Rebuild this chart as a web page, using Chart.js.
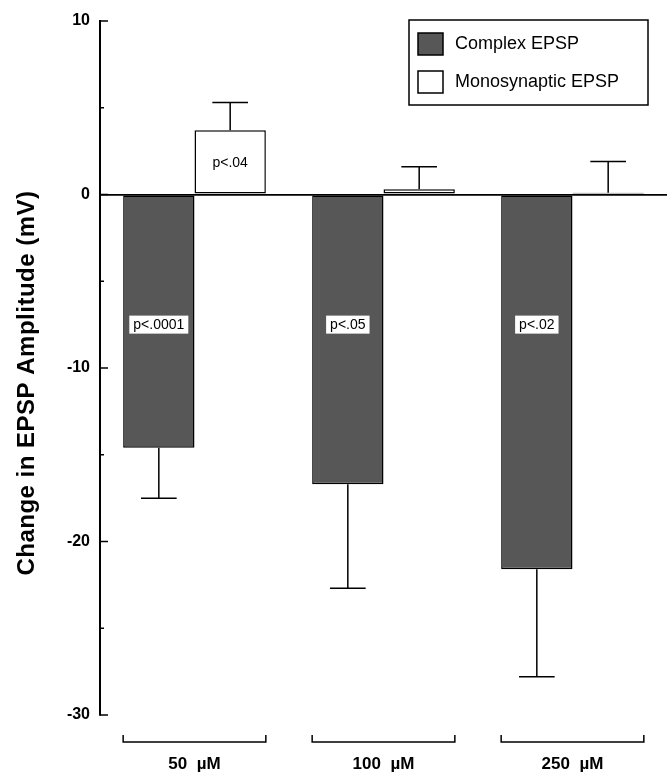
<!DOCTYPE html>
<html>
<head>
<meta charset="utf-8">
<style>
html,body{margin:0;padding:0;background:#fff;}
#wrap{width:670px;height:775px;position:relative;}
</style>
</head>
<body>
<div id="wrap"><canvas id="c" width="670" height="775"></canvas></div>
<script src="https://cdn.jsdelivr.net/npm/chart.js@4/dist/chart.umd.min.js"></script>
<script>
// ---- data ----
const categories = ['50  µM', '100  µM', '250  µM'];
const seriesNames = ['Complex EPSP', 'Monosynaptic EPSP'];
const complexValues = [-14.6, -16.7, -21.6];
const complexErrors = [2.9, 6.0, 6.2];
const monoValues = [3.7, 0.3, 0.1];
const monoErrors = [1.6, 1.3, 1.8];
const complexPLabels = ['p<.0001', 'p<.05', 'p<.02'];
const monoPLabels = ['p<.04', '', ''];
const yAxisTitle = 'Change in EPSP Amplitude (mV)';
const yMin = -30, yMax = 10, yStep = 5, yLabelStep = 10;

const FONT = '"Liberation Sans", Arial, Helvetica, sans-serif';
Chart.defaults.font.family = FONT;
Chart.defaults.color = '#000';

const complexColor = '#575757';
const monoColor = '#ffffff';

const customDraw = {
  id: 'customDraw',
  afterDatasetsDraw(chart) {
    const ctx = chart.ctx;
    const y = chart.scales.y;
    const area = chart.chartArea;
    ctx.save();
    ctx.strokeStyle = '#000';
    ctx.lineWidth = 1.5;

    // error bars (one-sided, in the direction of the bar)
    chart.data.datasets.forEach((ds, di) => {
      const meta = chart.getDatasetMeta(di);
      meta.data.forEach((bar, i) => {
        const v = ds.data[i], e = ds.errors[i];
        const end = v < 0 ? v - e : v + e;
        const yb = y.getPixelForValue(v);
        const ye = y.getPixelForValue(end);
        const half = bar.width / 4;
        ctx.beginPath();
        ctx.moveTo(bar.x, yb);
        ctx.lineTo(bar.x, ye);
        ctx.moveTo(bar.x - half, ye);
        ctx.lineTo(bar.x + half, ye);
        ctx.stroke();
      });
    });

    // p-value labels
    ctx.font = '14px ' + FONT;
    ctx.textAlign = 'center';
    ctx.textBaseline = 'middle';
    const m0 = chart.getDatasetMeta(0), m1 = chart.getDatasetMeta(1);
    complexPLabels.forEach((t, i) => {
      if (!t) return;
      const bx = m0.data[i].x;
      const by = y.getPixelForValue(-7.5);
      const w = ctx.measureText(t).width + 8;
      ctx.fillStyle = '#fff';
      ctx.fillRect(bx - w / 2, by - 9, w, 18);
      ctx.fillStyle = '#000';
      ctx.fillText(t, bx, by + 1);
    });
    monoPLabels.forEach((t, i) => {
      if (!t) return;
      const bx = m1.data[i].x;
      const by = y.getPixelForValue(monoValues[i] / 2);
      ctx.fillStyle = '#000';
      ctx.fillText(t, bx, by + 1);
    });

    // inward y ticks
    ctx.lineWidth = 1.5;
    y.ticks.forEach(tk => {
      const py = y.getPixelForValue(tk.value);
      const len = (tk.value % yLabelStep === 0) ? 8 : 4;
      ctx.beginPath();
      ctx.moveTo(area.left, py);
      ctx.lineTo(area.left + len, py);
      ctx.stroke();
    });

    // group brackets under x axis
    const by = area.bottom + 27;
    categories.forEach((c, i) => {
      const l = m0.data[i].x - m0.data[i].width / 2;
      const r = m1.data[i].x + m1.data[i].width / 2;
      ctx.beginPath();
      ctx.moveTo(l, by - 7);
      ctx.lineTo(l, by);
      ctx.lineTo(r, by);
      ctx.lineTo(r, by - 7);
      ctx.stroke();
    });

    // legend
    const lx = 409, ly = 20, lw = 239, lh = 85;
    ctx.lineWidth = 1.5;
    ctx.strokeRect(lx, ly, lw, lh);
    ctx.font = '18px ' + FONT;
    ctx.textAlign = 'left';
    ctx.textBaseline = 'middle';
    chart.data.datasets.forEach((ds, di) => {
      const sy = ly + 13 + di * 38;
      ctx.fillStyle = ds.backgroundColor;
      ctx.fillRect(lx + 9, sy, 25, 22);
      ctx.strokeRect(lx + 9, sy, 25, 22);
      ctx.fillStyle = '#000';
      ctx.fillText(ds.label, lx + 46, sy + 11);
    });

    // y axis title
    ctx.save();
    ctx.translate(34, 383);
    ctx.rotate(-Math.PI / 2);
    ctx.font = 'bold 24px ' + FONT;
    ctx.textAlign = 'center';
    ctx.textBaseline = 'alphabetic';
    try { ctx.letterSpacing = '0.5px'; } catch (e) {}
    ctx.fillStyle = '#000';
    ctx.fillText(yAxisTitle, 0, 0);
    ctx.restore();

    ctx.restore();
  }
};

new Chart(document.getElementById('c'), {
  type: 'bar',
  data: {
    labels: categories,
    datasets: [
      {
        label: seriesNames[0],
        data: complexValues,
        errors: complexErrors,
        backgroundColor: complexColor,
        borderColor: '#000',
        borderWidth: 1.5,
        borderSkipped: false
      },
      {
        label: seriesNames[1],
        data: monoValues,
        errors: monoErrors,
        backgroundColor: monoColor,
        borderColor: '#000',
        borderWidth: 1.5,
        borderSkipped: false
      }
    ]
  },
  options: {
    responsive: false,
    animation: false,
    devicePixelRatio: 1,
    layout: { padding: { top: 21, right: 3, left: 0, bottom: 0 } },
    plugins: { legend: { display: false }, tooltip: { enabled: false } },
    datasets: { bar: { categoryPercentage: 0.755, barPercentage: 1 } },
    scales: {
      x: {
        grid: { display: false, drawTicks: false },
        border: { display: false },
        ticks: {
          font: { size: 17, weight: 'bold' },
          color: '#000',
          padding: 39,
          maxRotation: 0,
          autoSkip: false
        },
        afterFit(s) { s.height = 60; }
      },
      y: {
        min: yMin,
        max: yMax,
        grid: {
          drawTicks: false,
          lineWidth: 1.8,
          color: (c) => (c.tick && c.tick.value === 0) ? '#000' : 'rgba(0,0,0,0)'
        },
        border: { display: true, color: '#000', width: 2 },
        ticks: {
          stepSize: yStep,
          padding: 10,
          font: { size: 16, weight: 'bold' },
          color: '#000',
          callback: (v) => (v % yLabelStep === 0 ? String(v) : '')
        },
        afterFit(s) { s.width = 100; }
      }
    }
  },
  plugins: [customDraw]
});
</script>
</body>
</html>
